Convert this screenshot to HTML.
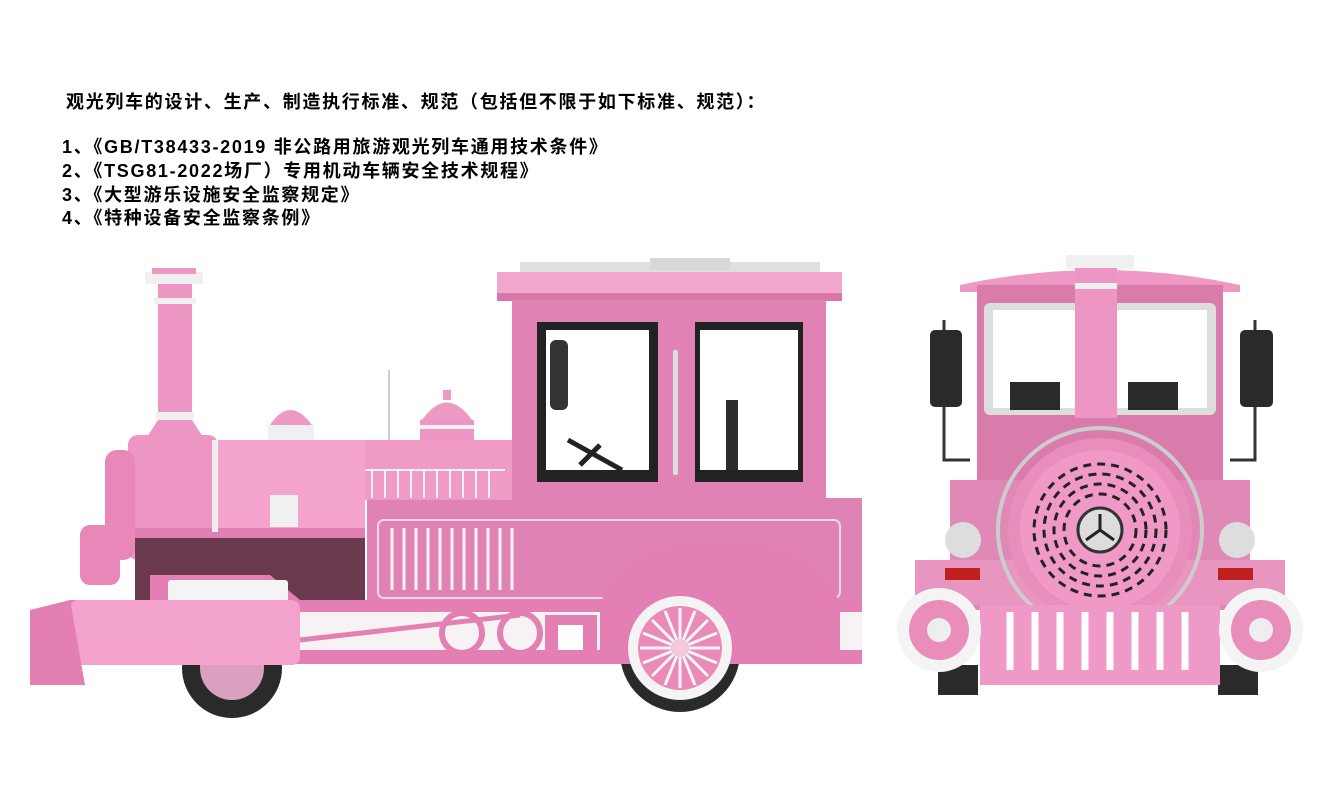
<!DOCTYPE html>
<html><head><meta charset="utf-8"><style>
html,body{margin:0;padding:0;background:#fff;width:1323px;height:810px;overflow:hidden}
.t{position:absolute;font-family:"Liberation Sans","Noto Sans CJK SC",sans-serif;font-weight:bold;font-size:18px;letter-spacing:1.7px;color:#000;white-space:nowrap}
svg{position:absolute;left:0;top:0}
</style></head><body>
<svg width="1323" height="810" viewBox="0 0 1323 810">
<!-- ===== SIDE TRAIN ===== -->
<circle cx="232" cy="668" r="50" fill="#2a2a2a"/>
<circle cx="232" cy="668" r="32" fill="#d9a0bf"/>
<circle cx="680" cy="652" r="60" fill="#2a2a2a"/>
<!-- cab roof -->
<rect x="520" y="262" width="300" height="10" fill="#e0e0e0"/>
<rect x="650" y="258" width="80" height="12" fill="#d8d8d8"/>
<path d="M497 272 L842 272 L842 300 L497 300 Z" fill="#f3a6cc"/>
<rect x="497" y="293" width="345" height="8" fill="#d977a8"/>
<!-- cab -->
<rect x="512" y="300" width="314" height="210" fill="#e082b3"/>
<rect x="537" y="322" width="121" height="160" fill="#222"/>
<rect x="546" y="330" width="103" height="140" fill="#fff"/>
<rect x="695" y="322" width="108" height="160" fill="#222"/>
<rect x="700" y="330" width="98" height="140" fill="#fff"/>
<rect x="550" y="340" width="18" height="70" rx="6" fill="#333"/>
<path d="M568 440 L622 470 M580 465 L600 445" stroke="#222" stroke-width="5"/>
<rect x="726" y="400" width="12" height="70" fill="#2a2a2a"/>
<rect x="673" y="350" width="5" height="125" rx="2" fill="#ddd"/>
<!-- lower body -->
<rect x="367" y="498" width="495" height="110" fill="#e082b3"/>
<rect x="378" y="520" width="462" height="78" rx="6" fill="none" stroke="#f0d8e4" stroke-width="2"/>
<g stroke="#f4f4f4" stroke-width="3">
<line x1="392" y1="528" x2="392" y2="590"/><line x1="404" y1="528" x2="404" y2="590"/><line x1="416" y1="528" x2="416" y2="590"/><line x1="428" y1="528" x2="428" y2="590"/><line x1="440" y1="528" x2="440" y2="590"/><line x1="452" y1="528" x2="452" y2="590"/><line x1="464" y1="528" x2="464" y2="590"/><line x1="476" y1="528" x2="476" y2="590"/><line x1="488" y1="528" x2="488" y2="590"/><line x1="500" y1="528" x2="500" y2="590"/><line x1="512" y1="528" x2="512" y2="590"/>
</g>
<!-- boiler -->
<rect x="365" y="440" width="147" height="60" fill="#f09ac6"/>
<g stroke="#f4f4f4" stroke-width="2"><line x1="372" y1="470" x2="372" y2="498"/><line x1="385" y1="470" x2="385" y2="498"/><line x1="398" y1="470" x2="398" y2="498"/><line x1="411" y1="470" x2="411" y2="498"/><line x1="424" y1="470" x2="424" y2="498"/><line x1="437" y1="470" x2="437" y2="498"/><line x1="450" y1="470" x2="450" y2="498"/><line x1="463" y1="470" x2="463" y2="498"/><line x1="476" y1="470" x2="476" y2="498"/><line x1="489" y1="470" x2="489" y2="498"/><line x1="364" y1="470" x2="505" y2="470"/></g>
<rect x="218" y="440" width="147" height="100" fill="#f4a3cd"/>
<rect x="128" y="435" width="90" height="125" rx="10" fill="#ed95c3"/>
<rect x="105" y="450" width="30" height="110" rx="12" fill="#e887b8"/>
<rect x="135" y="535" width="230" height="70" fill="#6b3a4e"/>
<rect x="135" y="528" width="230" height="10" fill="#e07fb1"/>
<rect x="212" y="440" width="6" height="92" fill="#eee"/>
<rect x="270" y="495" width="28" height="32" fill="#f0f0f0"/>
<rect x="80" y="525" width="40" height="60" rx="10" fill="#e887b8"/>
<path d="M270 425 Q290 395 312 425 Z" fill="#ee98c4"/><rect x="268" y="425" width="46" height="15" fill="#f0f0f0"/>
<path d="M422 420 Q447 385 472 420 Z" fill="#ee98c4"/><rect x="420" y="420" width="54" height="20" fill="#ed95c3"/><rect x="420" y="425" width="54" height="4" fill="#f0f0f0"/>
<rect x="443" y="390" width="8" height="10" fill="#ee98c4"/>
<line x1="389" y1="370" x2="389" y2="440" stroke="#ccc" stroke-width="2"/>
<!-- chimney -->
<rect x="145" y="272" width="58" height="12" fill="#f0f0f0"/>
<rect x="152" y="268" width="44" height="6" fill="#ee98c4"/>
<rect x="158" y="284" width="34" height="130" fill="#ed95c3"/>
<rect x="154" y="298" width="42" height="6" fill="#f0f0f0"/>
<rect x="156" y="412" width="38" height="8" fill="#f0f0f0"/>
<path d="M158 420 L192 420 L205 440 L145 440 Z" fill="#ed95c3"/>
<!-- frame -->
<path d="M150 575 L270 575 L300 600 L150 600 Z" fill="#e37fb2"/>
<rect x="70" y="600" width="792" height="12" fill="#e37fb2"/>
<rect x="300" y="612" width="562" height="38" fill="#f7f3f5"/>
<rect x="70" y="650" width="792" height="14" fill="#e37fb2"/>
<rect x="168" y="580" width="120" height="30" rx="3" fill="#f4f4f4"/>
<rect x="70" y="600" width="230" height="65" rx="8" fill="#f2a2cb"/>
<path d="M30 610 L70 600 L85 685 L30 685 Z" fill="#e37fb2"/>
<path d="M300 640 L520 615" stroke="#e37fb2" stroke-width="5"/>
<circle cx="462" cy="633" r="20" fill="none" stroke="#e37fb2" stroke-width="6"/>
<circle cx="520" cy="633" r="20" fill="none" stroke="#e37fb2" stroke-width="6"/>
<rect x="545" y="615" width="52" height="40" fill="#e37fb2"/>
<rect x="558" y="625" width="25" height="25" fill="#fff"/>
<path d="M600 605 Q620 545 722 540 Q820 545 840 605 L840 660 L600 660 Z" fill="#e37fb2"/>
<circle cx="680" cy="648" r="52" fill="#f4f4f4"/>
<circle cx="680" cy="648" r="42" fill="#e98ab9"/>
<g stroke="#f4f4f4" stroke-width="3"><line x1="640" y1="648" x2="720" y2="648"/><line x1="680" y1="608" x2="680" y2="688"/><line x1="652" y1="620" x2="708" y2="676"/><line x1="652" y1="676" x2="708" y2="620"/><line x1="643" y1="633" x2="717" y2="663"/><line x1="643" y1="663" x2="717" y2="633"/><line x1="665" y1="611" x2="695" y2="685"/><line x1="665" y1="685" x2="695" y2="611"/></g>
<circle cx="680" cy="648" r="9" fill="#f4c8dc"/>

<!-- ===== FRONT TRAIN ===== -->
<rect x="938" y="665" width="40" height="30" fill="#2a2a2a"/>
<rect x="1218" y="665" width="40" height="30" fill="#2a2a2a"/>
<path d="M960 285 Q1100 255 1240 285 L1240 292 L960 292 Z" fill="#ee98c4"/>
<rect x="977" y="285" width="246" height="200" fill="#d97bab"/>
<rect x="984" y="303" width="232" height="112" rx="6" fill="#ddd"/>
<rect x="993" y="310" width="214" height="98" fill="#fff"/>
<rect x="1010" y="382" width="50" height="28" fill="#2a2a2a"/>
<rect x="1128" y="382" width="50" height="28" fill="#2a2a2a"/>
<path d="M944 320 L944 460 L970 460 M1255 320 L1255 460 L1230 460" fill="none" stroke="#333" stroke-width="3"/>
<rect x="930" y="330" width="32" height="77" rx="5" fill="#2a2a2a"/>
<rect x="1240" y="330" width="33" height="77" rx="5" fill="#2a2a2a"/>
<rect x="950" y="480" width="300" height="130" fill="#e189b6"/>
<rect x="915" y="560" width="370" height="45" fill="#e896bf"/>
<rect x="1066" y="255" width="68" height="14" fill="#f0f0f0"/>
<rect x="1075" y="268" width="42" height="150" fill="#ed95c3"/>
<rect x="1075" y="283" width="42" height="6" fill="#eee"/>
<circle cx="1100" cy="530" r="102" fill="none" stroke="#ccc" stroke-width="4"/>
<circle cx="1100" cy="530" r="92" fill="#e98dbb"/>
<circle cx="1100" cy="530" r="80" fill="#f199c6"/>
<g fill="none" stroke="#222" stroke-width="3">
<circle cx="1100" cy="530" r="66" stroke-dasharray="8 6"/>
<circle cx="1100" cy="530" r="56" stroke-dasharray="8 6"/>
<circle cx="1100" cy="530" r="46" stroke-dasharray="8 6"/>
<circle cx="1100" cy="530" r="36" stroke-dasharray="8 6"/>
</g>
<circle cx="1100" cy="530" r="22" fill="#ddd" stroke="#333" stroke-width="3"/>
<path d="M1100 530 L1100 514 M1100 530 L1086 540 M1100 530 L1114 540" stroke="#222" stroke-width="3"/>
<circle cx="963" cy="540" r="18" fill="#ddd"/><circle cx="1237" cy="540" r="18" fill="#ddd"/>
<rect x="945" y="568" width="35" height="12" fill="#c02020"/><rect x="1218" y="568" width="35" height="12" fill="#c02020"/>
<rect x="980" y="605" width="240" height="80" fill="#ef9ac6"/>
<g stroke="#fff" stroke-width="7"><line x1="1010" y1="612" x2="1010" y2="670"/><line x1="1035" y1="612" x2="1035" y2="670"/><line x1="1060" y1="612" x2="1060" y2="670"/><line x1="1085" y1="612" x2="1085" y2="670"/><line x1="1110" y1="612" x2="1110" y2="670"/><line x1="1135" y1="612" x2="1135" y2="670"/><line x1="1160" y1="612" x2="1160" y2="670"/><line x1="1185" y1="612" x2="1185" y2="670"/></g>
<circle cx="939" cy="630" r="42" fill="#f4f4f4"/><circle cx="939" cy="630" r="30" fill="#e98dbb"/><circle cx="939" cy="630" r="12" fill="#eee"/>
<circle cx="1261" cy="630" r="42" fill="#f4f4f4"/><circle cx="1261" cy="630" r="30" fill="#e98dbb"/><circle cx="1261" cy="630" r="12" fill="#eee"/>
</svg>
<div class="t" style="left:66px;top:88px">观光列车的设计、生产、制造执行标准、规范（包括但不限于如下标准、规范）：</div>
<div class="t" style="left:62px;top:133px">1、《GB/T38433-2019 非公路用旅游观光列车通用技术条件》</div>
<div class="t" style="left:62px;top:157px">2、《TSG81-2022场厂）专用机动车辆安全技术规程》</div>
<div class="t" style="left:62px;top:181px">3、《大型游乐设施安全监察规定》</div>
<div class="t" style="left:62px;top:204px">4、《特种设备安全监察条例》</div>
</body></html>
